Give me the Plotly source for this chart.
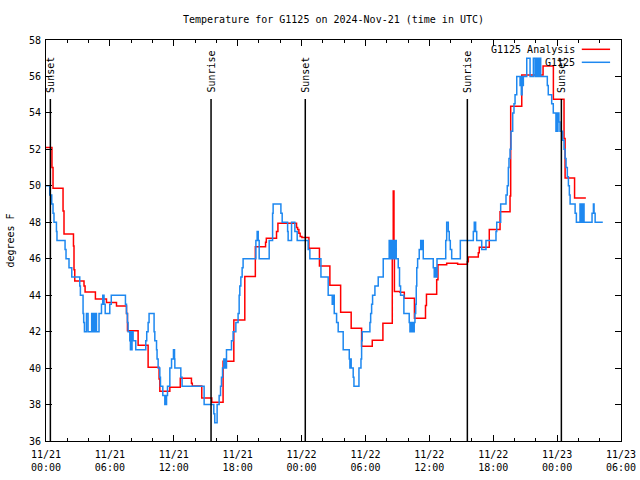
import plotly.graph_objects as go

title_text = "Temperature for G1125 on 2024-Nov-21 (time in UTC)"
y_title = "degrees F"

# hours since 2024-11-21 00:00 UTC
red_name = "G1125 Analysis"
red_hours = [0.00, 0.56, 0.66, 1.60, 1.69, 2.58, 2.63, 2.70, 3.57, 3.67,
             4.64, 5.68, 6.62, 7.56, 7.65, 8.65, 9.59, 10.62, 10.69, 11.63,
             12.61, 13.66, 13.74, 14.63, 15.57, 16.63, 17.64, 18.67, 19.66, 20.62,
             20.69, 21.65, 21.78, 23.53, 23.63, 23.75, 23.87, 24.03, 24.69, 25.68,
             26.66, 27.67, 28.66, 29.64, 30.64, 31.64, 32.52, 32.61, 32.68, 32.72,
             33.24, 33.65, 34.60, 35.64, 35.73, 36.69, 36.81, 37.63, 38.66, 39.57,
             39.66, 40.60, 40.69, 41.63, 42.64, 43.58, 43.64, 44.68, 46.68, 47.65,
             48.65, 48.75, 49.64, 50.70]
red_temps = [52.1, 51.0, 49.86, 48.62, 47.36, 46.7, 45.4, 44.78, 44.5, 44.17,
             43.79, 43.6, 43.4, 43.0, 42.05, 41.25, 40.05, 39.4, 38.73, 38.95,
             39.44, 39.17, 39.02, 38.36, 38.13, 40.37, 42.64, 45.02, 46.66, 46.9,
             47.12, 47.49, 47.94, 47.72, 47.61, 47.4, 47.22, 47.16, 46.57, 45.6,
             44.54, 43.06, 42.18, 41.2, 41.53, 42.46, 46.5, 49.72, 46.4, 44.2,
             44.16, 43.83, 42.73, 43.43, 44.05, 44.84, 45.67, 45.75, 45.7, 45.84,
             46.09, 46.33, 46.63, 47.61, 48.58, 49.44, 54.36, 56.08, 56.57, 54.75,
             52.6, 50.43, 49.33, 49.33]

blue_name = "G1125"
blue_hours = [0.00, 0.35, 0.54, 0.66, 0.75, 0.98, 1.03, 1.79, 1.88, 2.16,
              2.42, 3.17, 3.23, 3.48, 3.54, 3.61, 3.80, 3.95, 4.29, 4.39,
              4.48, 4.58, 4.67, 4.74, 4.98, 5.21, 5.33, 5.45, 5.56, 5.99,
              6.13, 7.46, 7.56, 7.65, 7.71, 7.87, 7.93, 7.99, 8.03, 8.08,
              8.18, 8.43, 9.37, 9.46, 9.59, 9.68, 10.15, 10.22, 10.38, 10.43,
              10.53, 10.69, 10.75, 10.97, 11.16, 11.22, 11.25, 11.32, 11.41, 11.63,
              11.79, 11.97, 12.07, 12.10, 12.66, 12.78, 14.85, 15.76, 15.85, 16.07,
              16.26, 16.39, 16.48, 16.58, 16.70, 16.77, 16.82, 16.89, 16.95, 17.42,
              17.57, 17.83, 18.04, 18.14, 18.20, 18.30, 18.42, 18.51, 19.71, 19.83,
              19.93, 20.02, 20.96, 21.28, 21.33, 22.06, 22.18, 22.69, 22.74, 23.06,
              23.37, 23.59, 24.62, 24.78, 25.82, 26.50, 26.88, 26.97, 27.07, 27.29,
              27.44, 27.91, 28.48, 28.54, 28.61, 28.66, 28.85, 28.92, 29.39, 29.58,
              29.64, 29.70, 30.42, 30.49, 30.58, 30.67, 30.89, 31.20, 31.67, 32.23,
              32.33, 32.42, 32.52, 32.61, 32.71, 32.80, 32.89, 33.08, 33.20, 33.30,
              33.61, 34.11, 34.18, 34.27, 34.37, 34.46, 34.53, 34.58, 34.65, 34.72,
              34.77, 34.82, 34.90, 35.05, 35.19, 35.26, 35.34, 35.43, 36.37, 36.46,
              36.57, 36.65, 36.72, 37.54, 37.63, 37.78, 37.87, 37.97, 38.10, 38.91,
              40.13, 40.22, 40.35, 40.45, 40.92, 41.32, 42.26, 42.33, 42.70, 43.20,
              43.32, 43.42, 43.48, 43.58, 43.67, 43.83, 43.95, 44.05, 44.21, 44.52,
              44.58, 44.64, 44.71, 44.77, 44.83, 45.15, 45.46, 45.77, 45.93, 45.99,
              46.05, 46.12, 46.18, 46.24, 46.30, 46.37, 46.46, 47.08, 47.17, 47.49,
              47.64, 47.89, 47.96, 48.01, 48.08, 48.17, 48.27, 48.53, 48.65, 48.75,
              48.84, 48.96, 49.06, 49.15, 49.22, 49.69, 49.81, 50.15, 50.22, 50.32,
              50.37, 50.47, 50.53, 51.28, 51.41, 51.47, 51.57, 52.29]
blue_temps = [50.0, 49.5, 49.0, 48.5, 48.0, 47.5, 47.0, 46.5, 46.0, 45.5,
              45.0, 44.5, 44.0, 43.0, 42.5, 42.0, 43.0, 42.0, 43.0, 42.0,
              43.0, 42.0, 43.0, 42.0, 43.0, 43.5, 44.0, 43.5, 43.0, 43.5,
              44.0, 43.5, 43.0, 42.5, 42.0, 41.5, 41.0, 42.0, 41.0, 42.0,
              41.5, 41.0, 41.5, 42.0, 42.5, 43.0, 42.0, 41.5, 41.0, 40.5,
              40.0, 39.5, 39.0, 38.5, 38.0, 38.5, 38.0, 38.5, 39.0, 40.0,
              40.5, 41.0, 40.5, 40.0, 39.5, 39.0, 38.0, 37.5, 37.0, 38.0,
              38.5, 39.0, 39.5, 40.0, 40.5, 40.0, 40.5, 40.0, 41.0, 41.5,
              42.0, 42.5, 43.0, 44.0, 44.5, 45.0, 45.5, 46.0, 47.0, 47.5,
              47.0, 46.0, 47.0, 48.5, 49.0, 48.5, 48.0, 47.5, 47.0, 48.0,
              47.5, 47.0, 46.5, 46.0, 45.0, 44.0, 43.5, 44.0, 43.0, 42.5,
              42.0, 41.0, 40.5, 40.0, 40.5, 40.0, 39.5, 39.0, 40.0, 40.5,
              41.5, 42.0, 42.5, 43.0, 43.5, 44.0, 44.5, 45.0, 46.0, 47.0,
              46.0, 47.0, 46.0, 47.0, 46.0, 47.0, 46.0, 45.5, 44.5, 44.0,
              43.0, 42.5, 42.0, 42.5, 42.0, 42.5, 42.0, 42.5, 43.0, 43.5,
              44.5, 45.5, 46.0, 46.5, 47.0, 46.5, 47.0, 46.0, 45.5, 45.0,
              45.5, 45.0, 46.0, 47.0, 48.0, 47.5, 47.0, 46.5, 46.0, 47.0,
              47.5, 48.0, 47.5, 47.0, 46.5, 47.0, 47.5, 48.0, 49.0, 49.5,
              50.0, 51.0, 51.5, 52.0, 53.0, 54.0, 54.5, 55.0, 56.0, 55.5,
              56.0, 55.0, 56.0, 55.5, 56.0, 57.0, 56.0, 57.0, 56.0, 57.0,
              56.0, 57.0, 56.0, 57.0, 56.0, 57.0, 56.0, 55.5, 55.0, 54.5,
              54.0, 53.0, 54.0, 53.0, 54.0, 53.5, 53.0, 52.5, 52.0, 51.5,
              51.0, 50.5, 50.0, 49.5, 49.0, 48.5, 48.0, 49.0, 48.0, 49.0,
              48.0, 49.0, 48.0, 48.5, 49.0, 48.5, 48.0, 48.0]

sun_hours = [0.41, 15.50, 24.35, 39.57, 48.40]
sun_labels = ["Sunset", "Sunrise", "Sunset", "Sunrise", "Sunset"]

tick_hours = [0, 6, 12, 18, 24, 30, 36, 42, 48, 54]
tick_dates = ["11/21", "11/21", "11/21", "11/21", "11/22", "11/22", "11/22", "11/22", "11/23", "11/23"]
tick_times = ["00:00", "06:00", "12:00", "18:00", "00:00", "06:00", "12:00", "18:00", "00:00", "06:00"]
y_ticks = [36, 38, 40, 42, 44, 46, 48, 50, 52, 54, 56, 58]

assert len(red_hours) == len(red_temps)
assert len(blue_hours) == len(blue_temps)

MONO = "DejaVu Sans Mono"
RED = "#ff0000"
BLUE = "#1e88f0"

fig = go.Figure()
fig.add_trace(go.Scatter(x=red_hours, y=red_temps, name=red_name, mode="lines",
                         line=dict(color=RED, width=1.5, shape="hv"), showlegend=False))
fig.add_trace(go.Scatter(x=blue_hours, y=blue_temps, name=blue_name, mode="lines",
                         line=dict(color=BLUE, width=1.5, shape="hv"), showlegend=False))

shapes = []
annotations = []
for h, lab in zip(sun_hours, sun_labels):
    shapes.append(dict(type="line", xref="x", yref="paper", x0=h, x1=h, y0=0, y1=0.853,
                       line=dict(color="black", width=1.5)))
    annotations.append(dict(text=lab, xref="x", yref="paper", x=h, y=0.864,
                            xanchor="center", yanchor="bottom", textangle=-90,
                            showarrow=False, font=dict(family=MONO, size=10, color="black")))

# gnuplot-style key: text right-justified, sample to its right
for name, col, yk in [(red_name, RED, 0.9768), (blue_name, BLUE, 0.9444)]:
    annotations.append(dict(text=name, xref="paper", yref="paper", x=0.923, y=yk,
                            xanchor="right", yanchor="middle", showarrow=False,
                            font=dict(family=MONO, size=10, color="black")))
    shapes.append(dict(type="line", xref="paper", yref="paper", x0=0.9318, x1=0.981,
                       y0=yk, y1=yk, line=dict(color=col, width=1.5)))

fig.update_layout(
    width=640, height=480,
    margin=dict(l=46, r=19, t=40, b=39, autoexpand=False),
    paper_bgcolor="white", plot_bgcolor="white",
    font=dict(family=MONO, size=10, color="black"),
    title=dict(text=title_text, x=0.5, xref="paper", y=1 - 19 / 480, yref="container",
               yanchor="middle", font=dict(family=MONO, size=10, color="black")),
    shapes=shapes, annotations=annotations,
)
fig.update_xaxes(range=[0, 54], tickmode="array", tickvals=tick_hours,
                 ticktext=[f"{d}<br>{t}" for d, t in zip(tick_dates, tick_times)],
                 ticks="inside", ticklen=6, tickcolor="black", tickwidth=1,
                 ticklabelstandoff=4,
                 showline=True, linecolor="black", linewidth=1, mirror="ticks",
                 showgrid=False, zeroline=False, automargin=False,
                 minor=dict(tickmode="linear", tick0=0, dtick=2, ticks="inside", ticklen=3,
                            tickcolor="black", tickwidth=1, showgrid=False))
fig.update_yaxes(range=[36, 58], tickmode="array", tickvals=y_ticks,
                 ticks="inside", ticklen=6, tickcolor="black", tickwidth=1,
                 ticklabelstandoff=2,
                 showline=True, linecolor="black", linewidth=1, mirror="ticks",
                 showgrid=False, zeroline=False, automargin=False,
                 title=dict(text=y_title, standoff=12, font=dict(family=MONO, size=10)))

fig.write_html("out.html", config={"displayModeBar": False},
               post_script="document.body.style.margin='0px';")
